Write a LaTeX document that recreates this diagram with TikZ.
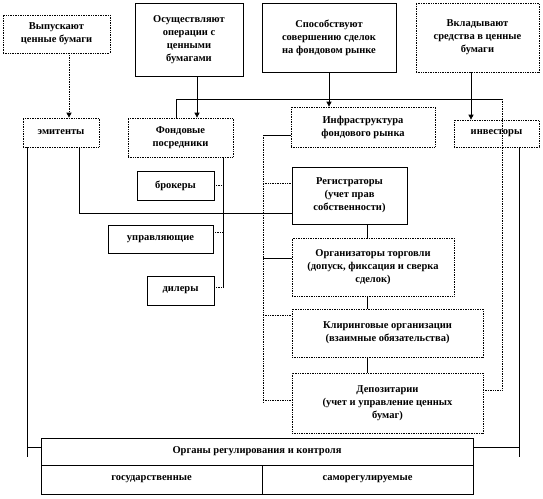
\documentclass[tikz,border=0pt]{standalone}
\usepackage{fontspec}
\setmainfont{Liberation Serif}
\usetikzlibrary{arrows.meta}
\tikzset{
  box/.style={draw, line width=0.7pt, align=center, inner sep=1pt, font=\fontsize{10.5}{13}\selectfont\bfseries},
  dbox/.style={box, densely dotted},
  ln/.style={line width=0.7pt},
  arr/.style={ln, -{Triangle[length=5pt,width=5pt]}}
}

\begin{document}
\begin{tikzpicture}[x=1pt, y=-1pt]
\useasboundingbox (0,0) rectangle (543,498);

\node[dbox, minimum width=107pt, minimum height=38pt] (vyp) at (56.5,34) {Выпускают\\ ценные бумаги};
\node[box, minimum width=108pt, minimum height=73pt] (osush) at (189,39.5) {Осуществляют\\ операции с\\ ценными\\ бумагами};
\node[box, minimum width=134pt, minimum height=69pt] (sposob) at (329,37.5) {Способствуют\\ совершению сделок\\ на фондовом рынке};
\node[dbox, minimum width=123pt, minimum height=69pt] (vklad) at (477.5,37.5) {Вкладывают\\ средства в ценные\\ бумаги};

\node[dbox, minimum width=76pt, minimum height=29pt] (emit) at (61,132.5) {эмитенты};
\node[dbox, minimum width=105pt, minimum height=39pt] (fond) at (180.5,137.5) {Фондовые\\ посредники};
\node[dbox, minimum width=144pt, minimum height=40pt] (infra) at (363,127) {Инфраструктура\\ фондового рынка};
\node[dbox, minimum width=85pt, minimum height=27pt] (invest) at (496.5,133.5) {инвесторы};

\node[box, minimum width=77pt, minimum height=29pt] (brok) at (175.5,185.5) {брокеры};
\node[box, minimum width=105pt, minimum height=28pt] (uprav) at (160.5,239) {управляющие};
\node[box, minimum width=67pt, minimum height=29pt] (diler) at (180.5,290.5) {дилеры};

\node[box, minimum width=115pt, minimum height=57pt] (reg) at (349.5,195.5) {Регистраторы\\ (учет прав\\ собственности)};
\node[dbox, minimum width=162pt, minimum height=58pt] (org) at (373,267) {Организаторы торговли\\ (допуск, фиксация и сверка\\ сделок)};
\node[dbox, minimum width=191pt, minimum height=48pt] (clir) at (387.5,333) {Клиринговые организации\\ (взаимные обязательства)};
\node[dbox, minimum width=191pt, minimum height=60pt] (depo) at (387.5,403) {Депозитарии\\ (учет и управление ценных\\ бумаг)};

\node[box, minimum width=432pt, minimum height=27pt] (organy) at (257,451.5) {Органы регулирования и контроля};
\node[box, minimum width=221pt, minimum height=29pt] (gos) at (151.5,479.5) {государственные};
\node[box, minimum width=211pt, minimum height=29pt] (samo) at (367.5,479.5) {саморегулируемые};

\draw[arr, densely dotted] (vyp.south -| 69,0) -- (emit.north -| 69,0);
\draw[arr] (osush.south -| 197,0) -- (fond.north -| 197,0);
\draw[arr] (sposob.south) -- (sposob.south |- infra.north);
\draw[arr] (vklad.south -| 471,0) -- (invest.north -| 471,0);

\coordinate (tr) at (502,99);
\draw[ln] (fond.north -| 176,0) |- (tr);
\draw[ln, densely dotted] (tr) |- (depo.east |- 0,390);

\draw[ln] (emit.south -| 27,0) -- (27,457);
\draw[ln] (27,447) -- (organy.west |- 0,447);
\draw[ln] (emit.south -| 79,0) |- (reg.west |- 0,213);

\draw[ln] (invest.south -| 519,0) -- (519,457);
\draw[ln] (organy.east |- 0,447) -- (519,447);

\draw[ln] (infra.west |- 0,135) -- (263,135);
\draw[ln, densely dotted] (263,135) -- (263,403);
\draw[ln, densely dotted] (263,183) -- (reg.west |- 0,183);
\draw[ln] (263,258) -- (org.west |- 0,258);
\draw[ln, densely dotted] (263,315) -- (clir.west |- 0,315);
\draw[ln, densely dotted] (263,400) -- (depo.west |- 0,400);

\draw[ln] (fond.south -| 223,0) -- (223,288);
\draw[ln, densely dotted] (brok.east |- 0,185) -- (223,185);
\draw[ln, densely dotted] (uprav.east |- 0,232) -- (223,232);
\draw[ln, densely dotted] (diler.east |- 0,287) -- (223,287);

\draw[ln] (reg.south -| 367,0) -- (org.north -| 367,0);
\draw[ln] (org.south -| 367,0) -- (clir.north -| 367,0);
\draw[ln] (clir.south -| 367,0) -- (depo.north -| 367,0);
\end{tikzpicture}
\end{document}
